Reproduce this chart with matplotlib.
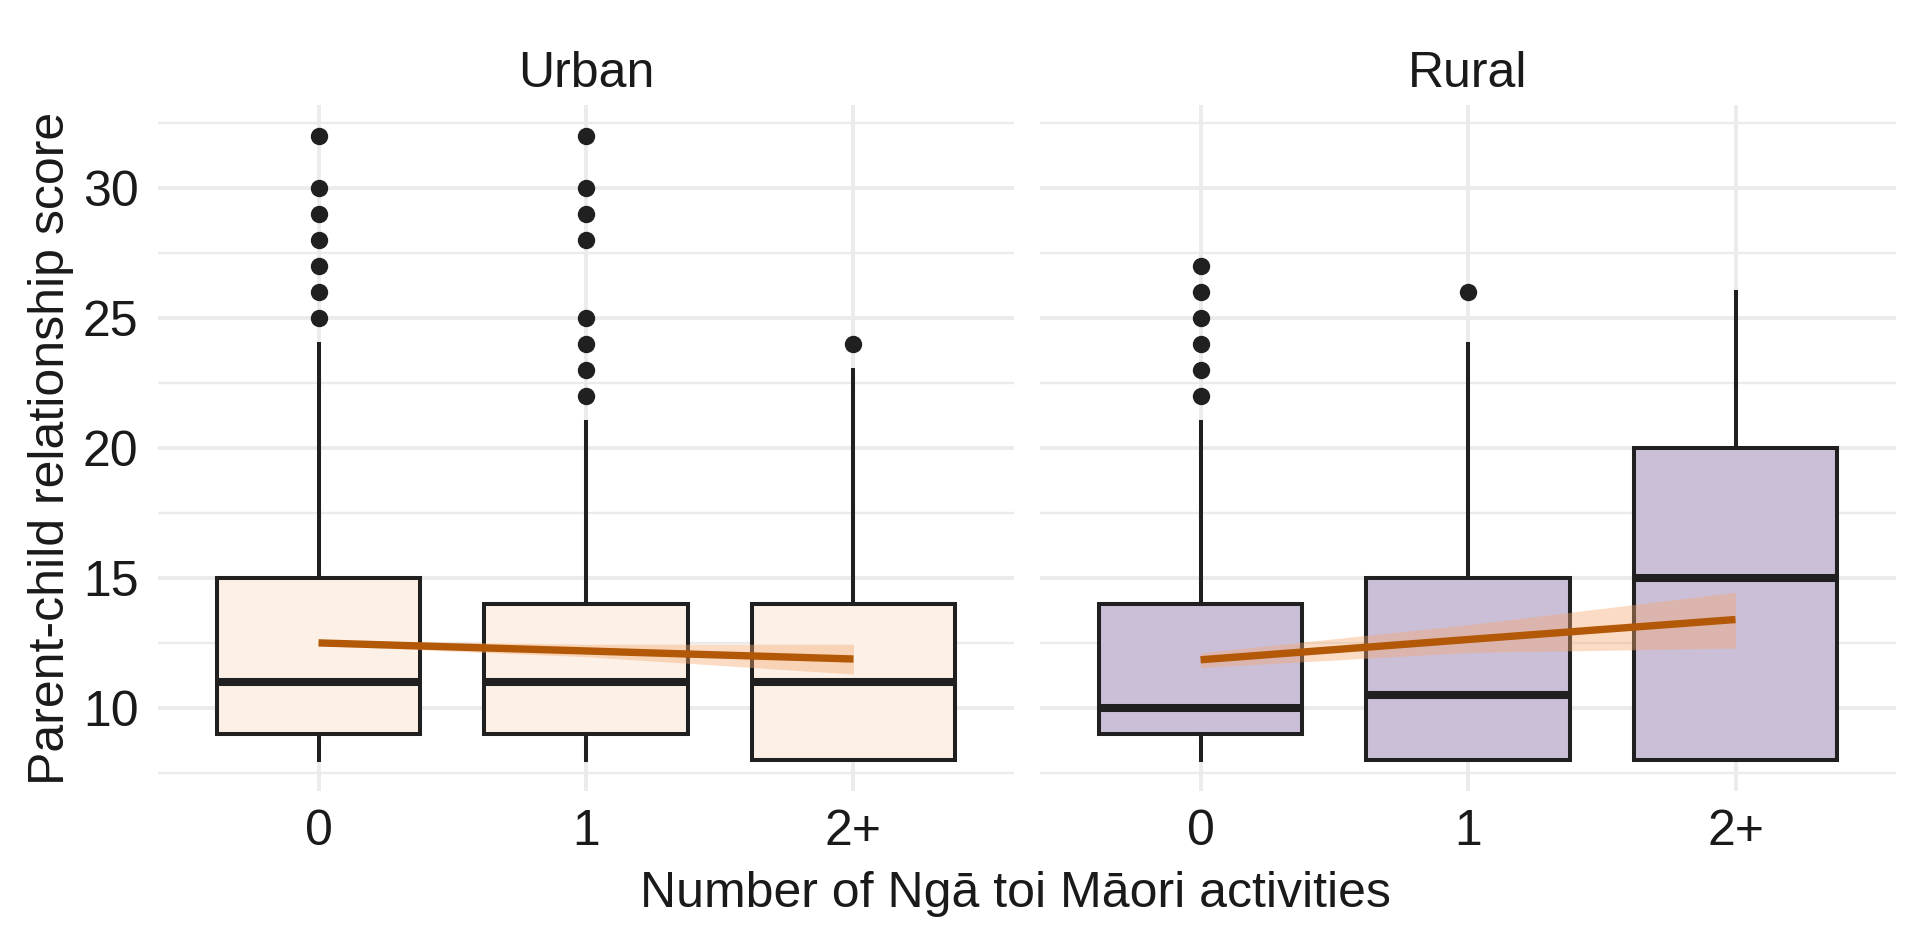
import matplotlib
matplotlib.use("Agg")
import matplotlib.pyplot as plt
import numpy as np

plt.rcParams['font.family'] = ['Liberation Sans', 'DejaVu Sans']

# categories on the x axis
categories = ["0", "1", "2+"]

# Urban boxplot stats
urban_lo = [8, 8, 8]
urban_q1 = [9, 9, 8]
urban_med = [11, 11, 11]
urban_q3 = [15, 14, 14]
urban_hi = [24, 21, 23]
urban_out = [[25, 26, 27, 28, 29, 30, 32], [22, 23, 24, 25, 28, 29, 30, 32], [24]]

# Rural boxplot stats
rural_lo = [8, 8, 8]
rural_q1 = [9, 8, 8]
rural_med = [10, 10.5, 15]
rural_q3 = [14, 15, 20]
rural_hi = [21, 24, 26]
rural_out = [[22, 23, 24, 25, 26, 27], [26], []]

# linear fit and confidence band
urban_fit = [12.5, 12.19, 11.88]
urban_fit_lo = [12.4, 11.97, 11.3]
urban_fit_hi = [12.6, 12.45, 12.45]
rural_fit = [11.85, 12.63, 13.4]
rural_fit_lo = [11.55, 12.13, 12.3]
rural_fit_hi = [12.12, 13.2, 14.45]

text_col = "#1a1a1a"
edge_col = "#202020"
grid_col = "#ebebeb"
fs = 36

fig = plt.figure(figsize=(19.2, 9.39), dpi=100)
ax1 = fig.add_axes([0.0823, 0.1576, 0.4458, 0.7306])
ax2 = fig.add_axes([0.5417, 0.1576, 0.4458, 0.7306])


def draw_panel(ax, title, lo, q1, med, q3, hi, out, fill, fit, fit_lo, fit_hi):
    x = np.arange(len(categories))
    stats = []
    for i in range(len(categories)):
        stats.append(dict(whislo=lo[i], q1=q1[i], med=med[i], q3=q3[i],
                          whishi=hi[i], fliers=out[i]))
    ax.bxp(stats, positions=x, widths=0.76, patch_artist=True, showcaps=False,
           boxprops=dict(facecolor=fill, edgecolor=edge_col, linewidth=2.9),
           whiskerprops=dict(color=edge_col, linewidth=2.9),
           medianprops=dict(color=edge_col, linewidth=5.8),
           flierprops=dict(marker='o', markerfacecolor=edge_col, markeredgecolor=edge_col,
                           markersize=11.5),
           zorder=2)
    ax.fill_between(x, fit_lo, fit_hi, color="#f5a66d", alpha=0.4, linewidth=0, zorder=3)
    ax.plot(x, fit, color="#b35806", linewidth=5.3, zorder=4, solid_capstyle='butt')

    ax.set_xlim(-0.6, 2.6)
    ax.set_ylim(6.8, 33.2)
    ax.set_xticks(x)
    ax.set_xticklabels(categories)
    ax.set_yticks([10, 15, 20, 25, 30])
    ax.set_yticks([7.5, 12.5, 17.5, 22.5, 27.5, 32.5], minor=True)
    ax.grid(True, which='major', color=grid_col, linewidth=2.8, zorder=0)
    ax.grid(True, which='minor', axis='y', color=grid_col, linewidth=1.7, zorder=0)
    ax.set_axisbelow(True)
    for s in ax.spines.values():
        s.set_visible(False)
    ax.tick_params(which='both', length=0, labelsize=fs, colors=text_col)
    ax.tick_params(axis='x', pad=13)
    ax.tick_params(axis='y', pad=14)
    ax.set_title(title, fontsize=fs, color=text_col, pad=13)


draw_panel(ax1, "Urban", urban_lo, urban_q1, urban_med, urban_q3, urban_hi, urban_out,
           "#fdf1e7", urban_fit, urban_fit_lo, urban_fit_hi)
draw_panel(ax2, "Rural", rural_lo, rural_q1, rural_med, rural_q3, rural_hi, rural_out,
           "#cbbfd8", rural_fit, rural_fit_lo, rural_fit_hi)
ax2.tick_params(axis='y', labelleft=False)

ax1.set_ylabel("Parent-child relationship score", fontsize=fs, color=text_col, labelpad=6)
fig.text(0.5417 - 0.0127, 0.048, "Number of Ngā toi Māori activities", fontsize=fs,
         color=text_col, ha='center', va='center')

fig.savefig("out.png", dpi=100)
